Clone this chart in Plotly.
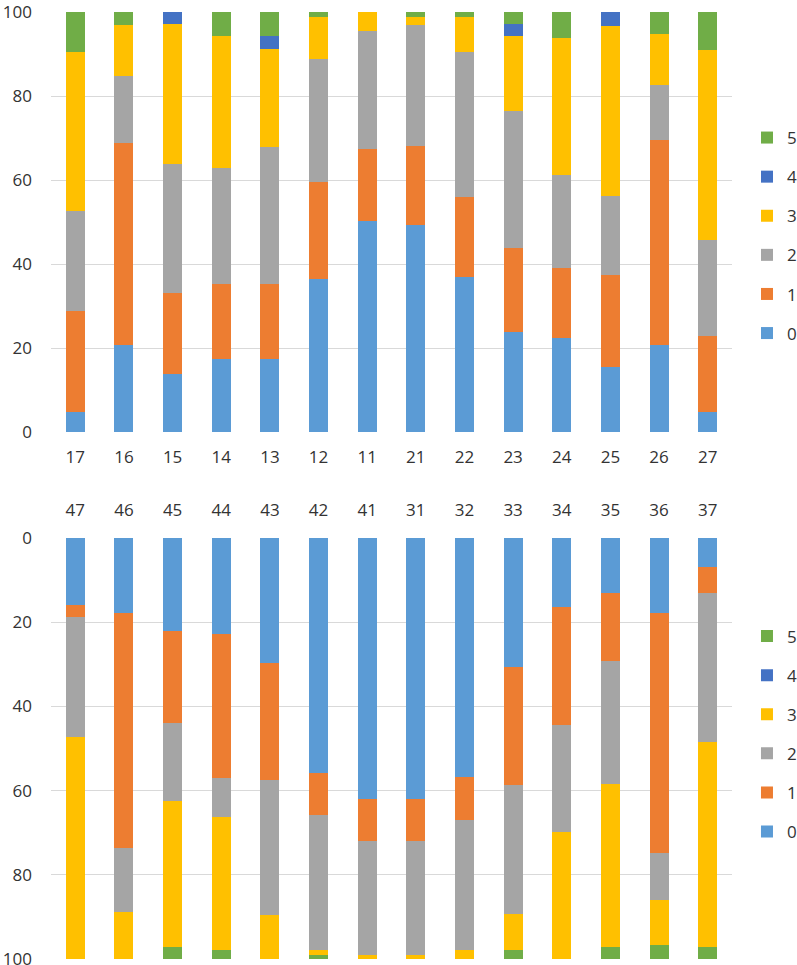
import plotly.graph_objects as go
from plotly.subplots import make_subplots

top_cats = ["17", "16", "15", "14", "13", "12", "11", "21", "22", "23", "24", "25", "26", "27"]
bot_cats = ["47", "46", "45", "44", "43", "42", "41", "31", "32", "33", "34", "35", "36", "37"]
series_names = ["0", "1", "2", "3", "4", "5"]

top_s0 = [4.8, 20.8, 13.8, 17.4, 17.4, 36.5, 50.2, 49.2, 36.9, 23.7, 22.5, 15.5, 20.8, 4.8]
top_s1 = [23.9, 47.9, 19.3, 17.8, 17.8, 23.1, 17.2, 19.0, 19.0, 20.2, 16.5, 21.8, 48.7, 18.1]
top_s2 = [23.9, 16.1, 30.6, 27.7, 32.6, 29.3, 28.0, 28.6, 34.6, 32.6, 22.3, 19.0, 13.1, 22.7]
top_s3 = [37.9, 12.0, 33.4, 31.3, 23.5, 9.9, 4.6, 2.0, 8.3, 17.8, 32.5, 40.4, 12.1, 45.4]
top_s4 = [0, 0, 2.9, 0, 2.9, 0, 0, 0, 0, 2.8, 0, 3.3, 0, 0]
top_s5 = [9.5, 3.3, 0, 5.8, 5.8, 1.2, 0, 1.2, 1.2, 2.9, 6.2, 0, 5.3, 9.0]

bot_s0 = [15.9, 17.9, 22.1, 22.9, 29.8, 55.8, 62.1, 62.1, 56.7, 30.7, 16.3, 13.0, 17.9, 6.8]
bot_s1 = [2.9, 55.7, 21.8, 34.2, 27.7, 9.9, 9.9, 9.9, 10.3, 28.0, 28.0, 16.1, 56.9, 6.2]
bot_s2 = [28.4, 15.2, 18.6, 9.1, 32.1, 32.2, 27.1, 27.1, 30.9, 30.5, 25.5, 29.3, 11.1, 35.5]
bot_s3 = [52.8, 11.2, 34.6, 31.7, 10.4, 1.2, 0.9, 0.9, 2.1, 8.7, 30.2, 38.7, 10.8, 48.6]
bot_s4 = [0, 0, 0, 0, 0, 0, 0, 0, 0, 0, 0, 0, 0, 0]
bot_s5 = [0, 0, 2.9, 2.1, 0, 0.9, 0, 0, 0, 2.1, 0, 2.9, 3.3, 2.9]

colors = ["#5B9BD5", "#ED7D31", "#A5A5A5", "#FFC000", "#4472C4", "#70AD47"]

top_series = [top_s0, top_s1, top_s2, top_s3, top_s4, top_s5]
bot_series = [bot_s0, bot_s1, bot_s2, bot_s3, bot_s4, bot_s5]

FONT = "Open Sans"
TXT = "#333333"
fig = make_subplots(rows=2, cols=1)

n = len(series_names)
for i, (name, vals, col) in enumerate(zip(series_names, top_series, colors)):
    fig.add_trace(go.Bar(x=top_cats, y=vals, name=name, marker_color=col,
                         marker_line_width=0, legend="legend", legendgroup="t" + name,
                         legendrank=n - i),
                  row=1, col=1)
for i, (name, vals, col) in enumerate(zip(series_names, bot_series, colors)):
    fig.add_trace(go.Bar(x=bot_cats, y=vals, name=name, marker_color=col,
                         marker_line_width=0, legend="legend2", legendgroup="b" + name,
                         legendrank=n - i),
                  row=2, col=1)

L, R, T, B = 51, 65, 12, 6
H = 965
ph = H - T - B
top_dom = [1 - (432 - T) / ph, 1]
bot_dom = [0, 1 - (538 - T) / ph]

axis_font = dict(family=FONT, size=17, color=TXT)
leg_common = dict(x=1.022, xanchor="left", yanchor="middle",
                  traceorder="grouped", tracegroupgap=14,
                  font=dict(family=FONT, size=17, color=TXT), itemwidth=30)
fig.update_layout(
    width=797, height=965,
    margin=dict(l=L, r=R, t=T, b=B, autoexpand=False),
    barmode="stack",
    bargap=0.61,
    plot_bgcolor="white", paper_bgcolor="white",
    font=dict(family=FONT, size=17, color=TXT),
    legend=dict(y=1 - (235.5 - T) / ph, **leg_common),
    legend2=dict(y=1 - (734 - T) / ph, **leg_common),
    xaxis=dict(domain=[0, 1], tickfont=axis_font, showgrid=False, showline=False,
               ticks="", ticklabelstandoff=13, automargin=False),
    yaxis=dict(domain=top_dom, range=[0, 100], dtick=20, tickfont=axis_font,
               showgrid=True, gridcolor="#D9D9D9", gridwidth=1, zeroline=False,
               showline=False, ticks="", ticklabelstandoff=18, automargin=False,
               ticklabeloverflow="allow"),
    xaxis2=dict(domain=[0, 1], side="top", tickfont=axis_font, showgrid=False,
                showline=False, ticks="", ticklabelstandoff=18, automargin=False),
    yaxis2=dict(domain=bot_dom, range=[100, 0], dtick=20, tickfont=axis_font,
                showgrid=True, gridcolor="#D9D9D9", gridwidth=1, zeroline=False,
                showline=False, ticks="", ticklabelstandoff=18, automargin=False,
                ticklabeloverflow="allow"),
)

fig.write_html("out.html", config={"displayModeBar": False},
               post_script="document.body.style.margin='0';")
